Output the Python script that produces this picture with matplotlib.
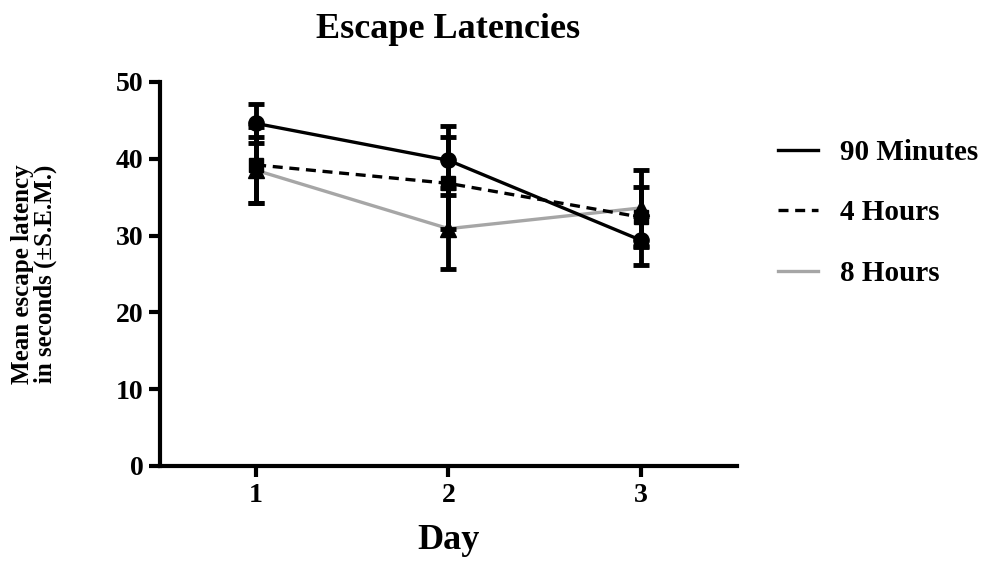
import numpy as np
import matplotlib
matplotlib.use("Agg")
import matplotlib.pyplot as plt

plt.rcParams["font.family"] = ["Liberation Serif", "DejaVu Serif"]
plt.rcParams["font.weight"] = "bold"

days = [1, 2, 3]
labels = ["90 Minutes", "4 Hours", "8 Hours"]

# means and SEM
min90_mean = [44.6, 39.8, 29.4]
min90_sem = [2.5, 4.5, 3.2]
hr4_mean = [39.2, 36.8, 32.4]
hr4_sem = [5.0, 6.0, 3.9]
hr8_mean = [38.5, 30.9, 33.6]
hr8_sem = [4.3, 5.3, 5.0]

fig = plt.figure(figsize=(10.03, 5.63), dpi=100)
ax = fig.add_axes([0.1595, 0.1723, 0.5753, 0.6821])

eb = dict(ecolor="black", elinewidth=3.5, capsize=5.5, capthick=3.5,
          mfc="black", mec="black")
# grey series first so the black ones sit on top
ax.errorbar(days, hr8_mean, yerr=hr8_sem, color="#a6a6a6", lw=2.4, marker="^",
            ms=11, zorder=2, **eb)
ax.errorbar(days, hr4_mean, yerr=hr4_sem, color="black", lw=2.4, ls=(0, (3, 2)),
            marker="s", ms=10, zorder=3, **eb)
ax.errorbar(days, min90_mean, yerr=min90_sem, color="black", lw=2.4, marker="o",
            ms=11, zorder=4, **eb)

# legend handles without markers
h1, = ax.plot([], [], color="black", lw=2.4)
h2, = ax.plot([], [], color="black", lw=2.4, ls=(0, (3, 2)))
h3, = ax.plot([], [], color="#a6a6a6", lw=2.4)
ax.legend([h1, h2, h3], labels, loc="upper left", bbox_to_anchor=(1.045, 0.89),
          frameon=False, prop={"size": 21, "weight": "bold"}, handlelength=1.4,
          handletextpad=0.75, labelspacing=1.15, borderpad=0)

ax.set_xlim(0.5, 3.5)
ax.set_ylim(0, 50)
ax.set_xticks(days)
ax.set_yticks(np.arange(0, 51, 10))
for side in ["top", "right"]:
    ax.spines[side].set_visible(False)
for side in ["left", "bottom"]:
    ax.spines[side].set_linewidth(3)
ax.tick_params(width=3, length=8, labelsize=20, pad=4)
for lab in ax.get_xticklabels() + ax.get_yticklabels():
    lab.set_fontweight("bold")

ax.set_title("Escape Latencies", fontsize=26, fontweight="bold", pad=32)
ax.set_xlabel("Day", fontsize=26, fontweight="bold", labelpad=12)
ax.set_ylabel("Mean escape latency\nin seconds (\u00b1S.E.M.)", fontsize=18,
              fontweight="bold", labelpad=42, linespacing=1.0)

fig.savefig("out.png", dpi=100)
